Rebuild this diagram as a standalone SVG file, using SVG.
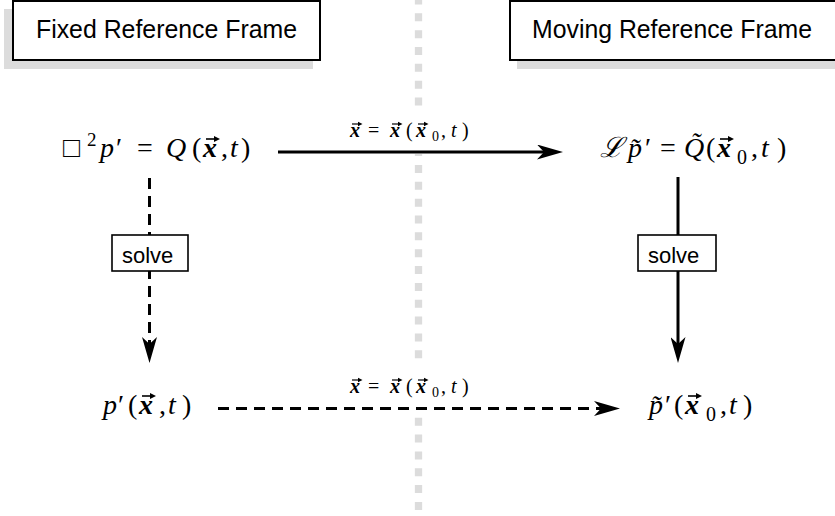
<svg xmlns="http://www.w3.org/2000/svg" width="835" height="516" viewBox="0 0 835 516">
<defs>
<style>
.title{font-family:"Liberation Sans",Arial,sans-serif;font-size:26px;fill:#000}
.solve{font-family:"Liberation Sans",Arial,sans-serif;font-size:22px;fill:#000}
.m{font-family:"Liberation Serif","Times New Roman","DejaVu Serif",serif;font-size:28px;fill:#000}
.lb{font-family:"Liberation Serif","Times New Roman","DejaVu Serif",serif;font-size:20px;fill:#000}
.i{font-style:italic}
.b{font-style:italic;font-weight:bold}
.frame{fill:#fff;stroke:#000;stroke-width:2}
.shadow{fill:#dcdcdc}
.box{fill:#fff;stroke:#000;stroke-width:1.6}
.conn{stroke:#000;stroke-width:3;fill:none}
.dash{stroke-dasharray:11 7}
.bg{fill:#fff}
</style>
<marker id="ah" viewBox="0 0 26 15" refX="7" refY="7.5" markerWidth="26" markerHeight="15" markerUnits="userSpaceOnUse" orient="auto">
<path d="M0,0 L26,7.5 L0,15 L7,7.5 Z" fill="#000"/>
</marker>
<g id="vec">
<path d="M0,0H10" stroke="#000" stroke-width="1.6" fill="none"/>
<path d="M8,-3L14,0L8,3Z" fill="#000"/>
</g>
</defs>

<line x1="418.5" y1="0" x2="418.5" y2="516" stroke="#dcdcdc" stroke-width="7.3" stroke-dasharray="8 8.85" stroke-dashoffset="3.55"/>

<g id="fixed-frame">
<rect class="shadow" x="4" y="9" width="309" height="60"/>
<rect class="frame" x="13" y="1" width="307" height="59"/>
<text class="title" x="36" y="38" textLength="261" lengthAdjust="spacingAndGlyphs">Fixed Reference Frame</text>
</g>

<g id="moving-frame">
<rect class="shadow" x="517" y="9" width="330" height="60"/>
<rect class="frame" x="510" y="1" width="340" height="59"/>
<text class="title" x="532" y="38" textLength="280" lengthAdjust="spacingAndGlyphs">Moving Reference Frame</text>
</g>

<g id="connectors">
<rect class="bg" x="345" y="108" width="130" height="46"/>
<line class="conn" x1="278" y1="152" x2="544" y2="152" marker-end="url(#ah)"/>
<text class="lb" y="137"><tspan class="b" x="350">x</tspan><tspan x="368">=</tspan><tspan class="b" x="390">x</tspan><tspan x="406">(</tspan><tspan class="b" x="416">x</tspan><tspan x="432" y="141" font-size="14">0</tspan><tspan x="441" y="137">,</tspan><tspan class="i" x="451">t</tspan><tspan x="462">)</tspan></text>
<use href="#vec" transform="translate(352,124) scale(0.75)"/>
<use href="#vec" transform="translate(392,124) scale(0.75)"/>
<use href="#vec" transform="translate(418,124) scale(0.75)"/>

<rect class="bg" x="345" y="367" width="130" height="49"/>
<line class="conn dash" x1="218" y1="408.5" x2="601" y2="408.5" marker-end="url(#ah)"/>
<text class="lb" y="393"><tspan class="b" x="350">x</tspan><tspan x="368">=</tspan><tspan class="b" x="390">x</tspan><tspan x="406">(</tspan><tspan class="b" x="416">x</tspan><tspan x="432" y="397" font-size="14">0</tspan><tspan x="441" y="393">,</tspan><tspan class="i" x="451">t</tspan><tspan x="462">)</tspan></text>
<use href="#vec" transform="translate(352,380) scale(0.75)"/>
<use href="#vec" transform="translate(392,380) scale(0.75)"/>
<use href="#vec" transform="translate(418,380) scale(0.75)"/>

<line class="conn dash" x1="149.5" y1="178" x2="149.5" y2="344" marker-end="url(#ah)"/>
<line class="conn" x1="678" y1="177" x2="678" y2="344" marker-end="url(#ah)"/>
</g>

<g id="solve-left">
<rect class="box" x="112" y="235" width="76" height="36"/>
<text class="solve" x="122" y="263">solve</text>
</g>

<g id="solve-right">
<rect class="box" x="638" y="235" width="78" height="36"/>
<text class="solve" x="648" y="263">solve</text>
</g>

<g id="eq-fixed">
<text class="m" y="157"><tspan x="63">&#x25A1;</tspan><tspan x="87" y="146" font-size="19">2</tspan><tspan class="i" x="100" y="157">p</tspan><tspan x="116">&#x2032;</tspan><tspan x="137">=</tspan><tspan class="i" x="166">Q</tspan><tspan x="192">(</tspan><tspan class="b" x="203">x</tspan><tspan x="221">,</tspan><tspan class="i" x="230">t</tspan><tspan x="241">)</tspan></text>
<use href="#vec" transform="translate(206,139)"/>
</g>

<g id="eq-moving">
<text class="m" y="157"><tspan class="i" x="600">&#x2112;</tspan><tspan class="i" x="628">p&#x303;</tspan><tspan x="645">&#x2032;</tspan><tspan x="660">=</tspan><tspan class="i" x="684">Q&#x303;</tspan><tspan x="706">(</tspan><tspan class="b" x="717">x</tspan><tspan x="737" y="164" font-size="20">0</tspan><tspan x="751" y="157">,</tspan><tspan class="i" x="761">t</tspan><tspan x="777">)</tspan></text>
<use href="#vec" transform="translate(720,139)"/>
</g>

<g id="sol-fixed">
<text class="m" y="414"><tspan class="i" x="103">p</tspan><tspan x="118">&#x2032;</tspan><tspan x="128">(</tspan><tspan class="b" x="139">x</tspan><tspan x="159">,</tspan><tspan class="i" x="168">t</tspan><tspan x="182">)</tspan></text>
<use href="#vec" transform="translate(142,396)"/>
</g>

<g id="sol-moving">
<text class="m" y="414"><tspan class="i" x="649">p&#x303;</tspan><tspan x="665">&#x2032;</tspan><tspan x="674">(</tspan><tspan class="b" x="685">x</tspan><tspan x="706" y="421" font-size="20">0</tspan><tspan x="720" y="414">,</tspan><tspan class="i" x="729">t</tspan><tspan x="743">)</tspan></text>
<use href="#vec" transform="translate(688,396)"/>
</g>
</svg>
